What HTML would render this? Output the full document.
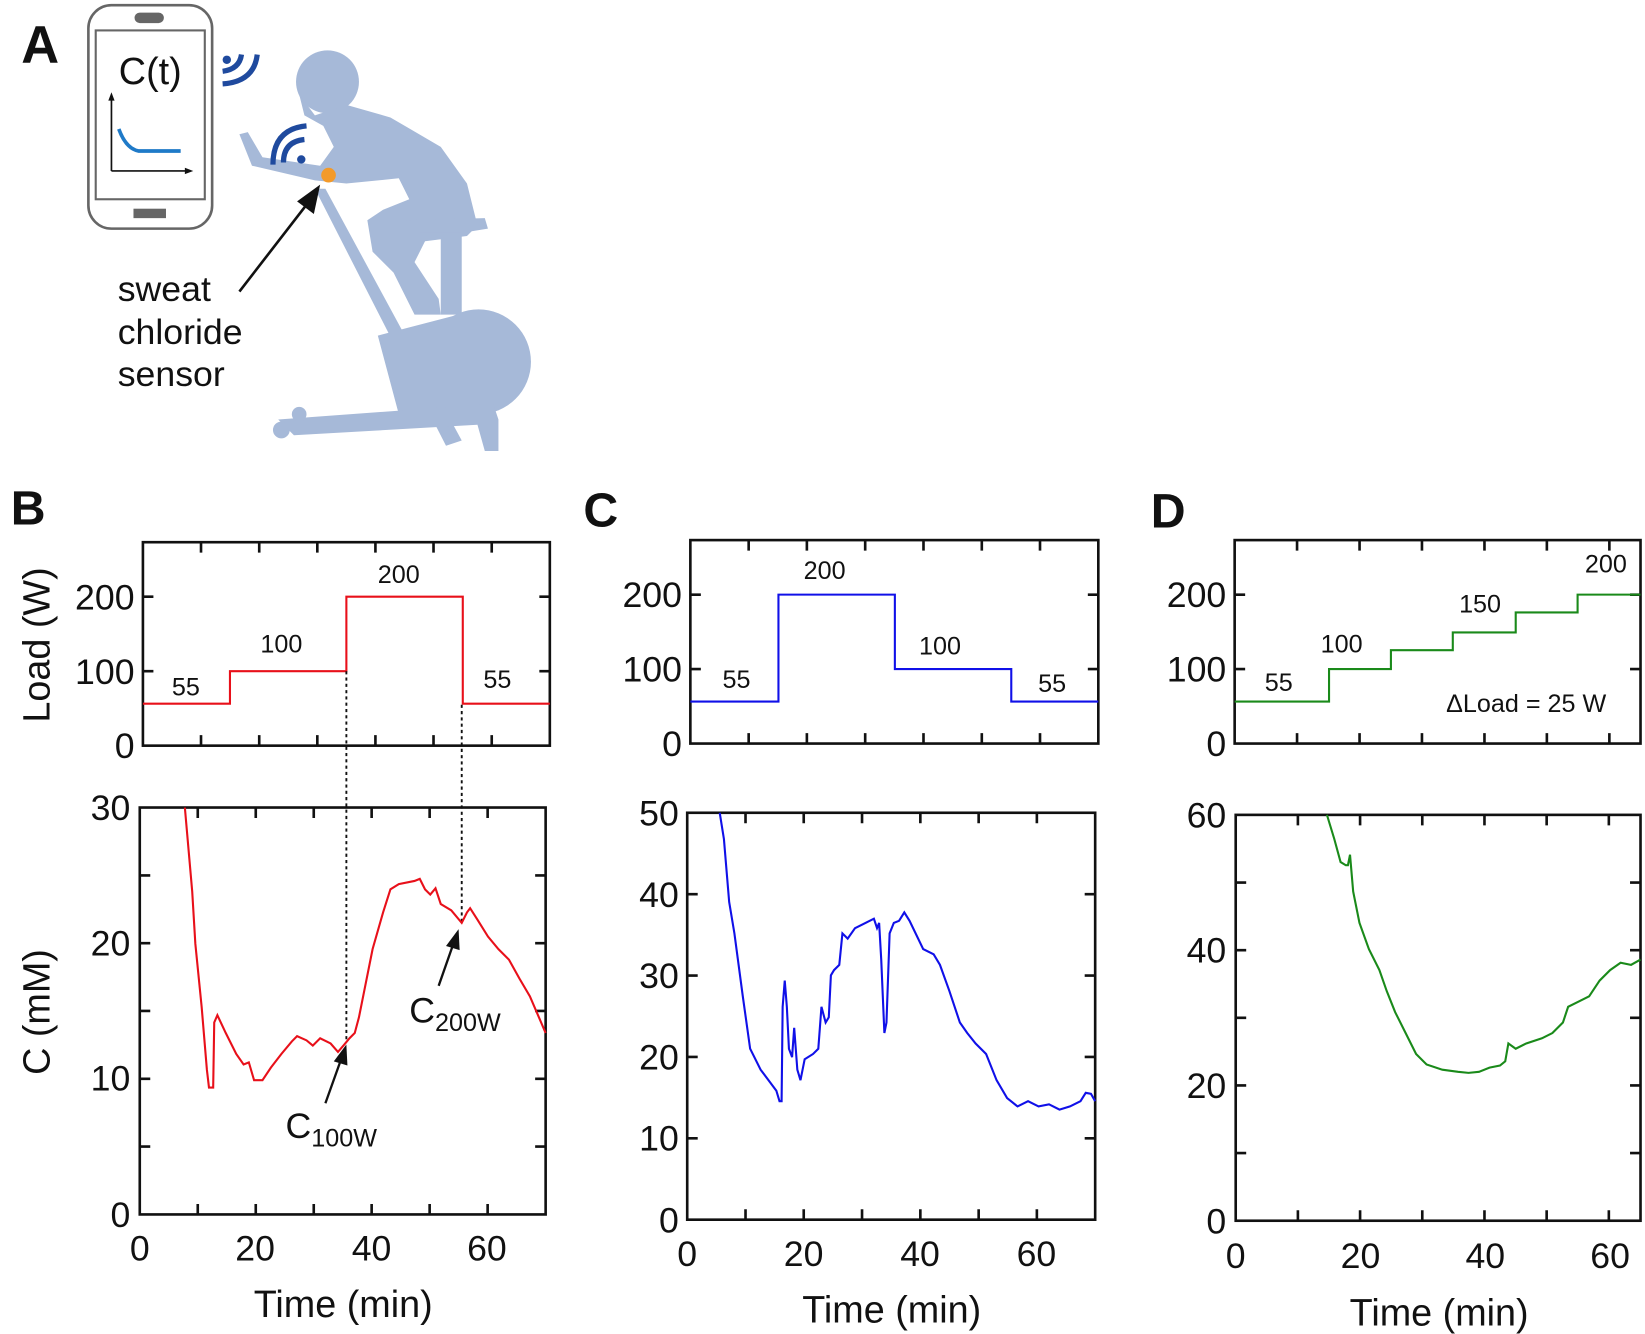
<!DOCTYPE html>
<html><head><meta charset="utf-8"><style>
html,body{margin:0;padding:0;background:#fff}
svg{display:block}
text{font-family:"Liberation Sans",Arial,sans-serif;fill:#111}
</style></head><body>
<svg width="1645" height="1334" viewBox="0 0 1568 1272" xmlns="http://www.w3.org/2000/svg">
<!-- Panel A -->
<text x="20" y="60" font-size="50" font-weight="bold">A</text>
<g fill="#a6b9d8">
<circle cx="312" cy="78" r="30"/>
<path d="M285,90 L300,110 L330,100 L372,112 L420,140 L445,175 L455,215 L445,225 L405,230 L395,250 L418,285 L420,300 L395,300 L375,260 L355,240 L350,210 L365,200 L390,190 L380,170 L330,175 L300,172 L240,158 L228,128 L236,126 L250,150 L305,158 L318,140 L308,120 L290,110 Z"/>
<path d="M300,180 L310,180 L440,420 L425,425 Z"/>
<path d="M385,210 L462,208 L465,218 L440,222 L400,222 Z"/>
<path d="M420,222 L440,222 L440,300 L420,300 Z"/>
<circle cx="456" cy="345" r="50"/>
<path d="M360,320 L456,295 L456,395 L380,395 Z"/>
<path d="M265,400 L470,385 L475,400 L475,430 L462,430 L455,405 L280,415 Z"/>
<circle cx="268" cy="410" r="8"/><circle cx="285" cy="395" r="7"/>
</g>
<rect x="84" y="5" width="118" height="213" rx="22" fill="#fff" stroke="#666" stroke-width="2.5"/>
<rect x="91" y="29" width="104" height="161" fill="none" stroke="#666" stroke-width="2"/>
<rect x="128" y="12" width="28" height="10" rx="5" fill="#666"/>
<rect x="127" y="199" width="31" height="9" fill="#666"/>
<text x="143" y="80" font-size="36" text-anchor="middle">C(t)</text>
<path d="M106,163 L106,92 M106,163 L180,163" stroke="#111" stroke-width="1.6" fill="none"/>
<path d="M103,96 L106,88 L109,96 Z M176,160 L184,163 L176,166 Z" fill="#111"/>
<path d="M113,123 Q120,142 132,144 L172,144" stroke="#1f7ac8" stroke-width="3.5" fill="none"/>
<g fill="none" stroke="#1f4a9e" stroke-width="5">
<path d="M212,68 Q228,66 230,52"/><path d="M212,80 Q242,78 245,52"/>
<path d="M270,155 Q270,135 290,133"/><path d="M260,157 Q260,123 292,120"/>
</g>
<circle cx="216" cy="57" r="4" fill="#1f4a9e"/><circle cx="287" cy="152" r="4" fill="#1f4a9e"/>
<circle cx="313" cy="167" r="7" fill="#f39a2a"/>
<path d="M228,278 L296,190" stroke="#111" stroke-width="2.5"/>
<path d="M305,176 L283,192 L299,204 Z" fill="#111"/>
<text x="112" y="287" font-size="34">sweat</text>
<text x="112" y="328" font-size="34">chloride</text>
<text x="112" y="368" font-size="34">sensor</text>

<!-- Panel labels -->
<text x="10" y="500" font-size="46" font-weight="bold">B</text>
<text x="556" y="502" font-size="46" font-weight="bold">C</text>
<text x="1097" y="503" font-size="46" font-weight="bold">D</text>

<g font-size="34" text-anchor="end">
<!-- B top y labels -->
<text x="128" y="581">200</text><text x="128" y="652">100</text><text x="128" y="723">0</text>
<text x="124" y="782">30</text><text x="124" y="911">20</text><text x="124" y="1040">10</text><text x="124" y="1170">0</text>
<!-- C -->
<text x="650" y="579">200</text><text x="650" y="650">100</text><text x="650" y="721">0</text>
<text x="647" y="787">50</text><text x="647" y="865">40</text><text x="647" y="942">30</text><text x="647" y="1020">20</text><text x="647" y="1097">10</text><text x="647" y="1175">0</text>
<!-- D -->
<text x="1169" y="579">200</text><text x="1169" y="650">100</text><text x="1169" y="721">0</text>
<text x="1169" y="789">60</text><text x="1169" y="918">40</text><text x="1169" y="1047">20</text><text x="1169" y="1176">0</text>
</g>
<g font-size="34" text-anchor="middle">
<text x="133" y="1202">0</text><text x="243" y="1202">20</text><text x="354" y="1202">40</text><text x="464" y="1202">60</text>
<text x="655" y="1207">0</text><text x="766" y="1207">20</text><text x="877" y="1207">40</text><text x="988" y="1207">60</text>
<text x="1178" y="1209">0</text><text x="1297" y="1209">20</text><text x="1416" y="1209">40</text><text x="1535" y="1209">60</text>
</g>
<g font-size="36" text-anchor="middle">
<text x="327" y="1256">Time (min)</text>
<text x="850" y="1261">Time (min)</text>
<text x="1372" y="1264">Time (min)</text>
<text transform="translate(47,615) rotate(-90)">Load (W)</text>
<text transform="translate(47,965) rotate(-90)">C (mM)</text>
</g>
<g font-size="24" text-anchor="middle">
<text x="177" y="663">55</text><text x="268" y="622">100</text><text x="380" y="556">200</text><text x="474" y="656">55</text>
<text x="702" y="656">55</text><text x="786" y="552">200</text><text x="896" y="624">100</text><text x="1003" y="660">55</text>
<text x="1219" y="659">55</text><text x="1279" y="622">100</text><text x="1411" y="584">150</text><text x="1531" y="546">200</text>
<text x="1455" y="679">ΔLoad = 25 W</text>
</g>

<!-- Frames and ticks -->
<g fill="none" stroke="#111" stroke-width="2.5">
<rect x="136" y="517" width="388" height="194"/>
<rect x="133" y="770" width="387" height="388"/>
<rect x="658" y="515" width="389" height="194"/>
<rect x="655" y="775" width="389" height="388"/>
<rect x="1177" y="515" width="387" height="194"/>
<rect x="1178" y="777" width="386" height="387"/>
</g>
<g stroke="#111" stroke-width="2.5">
<path d="M191.4,517v10M246.9,517v10M302.3,517v10M357.7,517v10M413.1,517v10M468.6,517v10M191.4,711v-10M246.9,711v-10M302.3,711v-10M357.7,711v-10M413.1,711v-10M468.6,711v-10M136,569h10M136,640h10M524,569h-10M524,640h-10"/>
<path d="M188.3,770v10M243.6,770v10M298.9,770v10M354.1,770v10M409.4,770v10M464.7,770v10M188.3,1158v-10M243.6,1158v-10M298.9,1158v-10M354.1,1158v-10M409.4,1158v-10M464.7,1158v-10M133,834.7h10M133,899.3h10M133,964h10M133,1028.7h10M133,1093.3h10M520,834.7h-10M520,899.3h-10M520,964h-10M520,1028.7h-10M520,1093.3h-10"/>
<path d="M713.6,515v10M769.1,515v10M824.7,515v10M880.3,515v10M935.9,515v10M991.4,515v10M713.6,709v-10M769.1,709v-10M824.7,709v-10M880.3,709v-10M935.9,709v-10M991.4,709v-10M658,567h10M658,638h10M1047,567h-10M1047,638h-10"/>
<path d="M710.6,775v10M766.1,775v10M821.7,775v10M877.3,775v10M932.9,775v10M988.4,775v10M710.6,1163v-10M766.1,1163v-10M821.7,1163v-10M877.3,1163v-10M932.9,1163v-10M988.4,1163v-10M655,852.6h10M655,930.2h10M655,1007.8h10M655,1085.4h10M1044,852.6h-10M1044,930.2h-10M1044,1007.8h-10M1044,1085.4h-10"/>
<path d="M1236.5,515v10M1296.1,515v10M1355.6,515v10M1415.2,515v10M1474.7,515v10M1534.3,515v10M1236.5,709v-10M1296.1,709v-10M1355.6,709v-10M1415.2,709v-10M1474.7,709v-10M1534.3,709v-10M1177,567h10M1177,638h10M1564,567h-10M1564,638h-10"/>
<path d="M1237.3,777v10M1296.6,777v10M1355.9,777v10M1415.2,777v10M1474.5,777v10M1533.8,777v10M1237.3,1164v-10M1296.6,1164v-10M1355.9,1164v-10M1415.2,1164v-10M1474.5,1164v-10M1533.8,1164v-10M1178,841.5h10M1178,906h10M1178,970.5h10M1178,1035h10M1178,1099.5h10M1564,841.5h-10M1564,906h-10M1564,970.5h-10M1564,1035h-10M1564,1099.5h-10"/>
</g>

<!-- Load step series -->
<path d="M136,671 H219 V640 H330 V569 H441 V671 H524" fill="none" stroke="#e8101a" stroke-width="2"/>
<path d="M658,669 H742 V567 H853 V638 H964 V669 H1047" fill="none" stroke="#1010e8" stroke-width="2"/>
<path d="M1177,669 H1267 V638 H1326 V620 H1385 V603 H1445 V584 H1504 V567 H1564" fill="none" stroke="#1a8a1a" stroke-width="2"/>

<!-- dotted guides -->
<path d="M330,640 V992 M440,672 V882" stroke="#111" stroke-width="1.8" stroke-dasharray="3,3"/>

<!-- concentration series -->
<polyline fill="none" stroke="#e8101a" stroke-width="2" points="176,770 183,850 186,900 192,960 197,1020 199,1037 203,1037 204,975 207,968 215,985 225,1005 232,1015 237,1013 242,1030 250,1030 258,1018 268,1005 278,993 283,988 292,992 298,997 305,990 315,995 322,1003 328,996 333,990 338,985 342,970 348,940 355,905 365,870 372,848 380,843 395,840 400,838 405,848 410,853 415,847 420,862 430,868 440,880 445,870 448,866 455,877 465,893 475,905 485,915 495,933 505,950 520,985"/>
<polyline fill="none" stroke="#1010e8" stroke-width="2" points="686,775 690,800 695,860 700,890 708,950 715,1000 725,1020 740,1040 743,1050 745,1050 746,960 748,935 750,960 752,1000 755,1008 757,980 760,1020 763,1030 767,1010 775,1005 780,1000 783,960 787,975 790,970 792,930 795,925 800,920 803,890 808,895 815,885 825,880 833,876 836,885 838,880 840,915 843,985 845,975 848,890 852,880 857,878 862,870 867,878 880,905 890,910 896,920 905,945 915,975 922,985 930,995 940,1005 950,1030 960,1047 970,1055 980,1050 990,1055 1000,1053 1010,1058 1020,1055 1030,1050 1035,1042 1040,1043 1044,1050"/>
<polyline fill="none" stroke="#1a8a1a" stroke-width="2" points="1265,777 1272,800 1278,822 1283,825 1285,825 1287,815 1290,850 1296,880 1305,905 1315,925 1322,945 1330,965 1340,985 1350,1005 1360,1015 1375,1020 1390,1022 1400,1023 1410,1022 1420,1018 1430,1016 1435,1012 1438,995 1445,1000 1455,995 1470,990 1480,985 1490,975 1495,960 1505,955 1515,950 1525,935 1535,925 1545,918 1555,920 1564,915"/>

<!-- arrows B -->
<path d="M310,1052 L325,1010" stroke="#111" stroke-width="2.2"/>
<path d="M330,996 L318,1012 L331,1016 Z" fill="#111"/>
<path d="M418,940 L432,900" stroke="#111" stroke-width="2.2"/>
<path d="M437,886 L425,902 L438,906 Z" fill="#111"/>
<text x="272" y="1085" font-size="34">C<tspan font-size="24" dy="8">100W</tspan></text>
<text x="390" y="975" font-size="34">C<tspan font-size="24" dy="8">200W</tspan></text>
</svg>
</body></html>
